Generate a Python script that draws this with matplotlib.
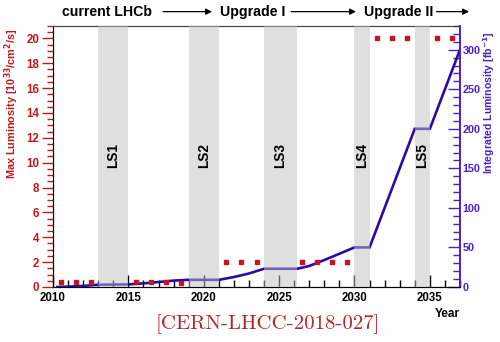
import matplotlib
matplotlib.use("Agg")
import matplotlib.pyplot as plt
from matplotlib.ticker import MultipleLocator
from matplotlib.transforms import blended_transform_factory

# ---------------- data ----------------
lumi_years = [2010.5, 2011.5, 2012.5, 2015.5, 2016.5, 2017.5, 2018.5,
              2021.5, 2022.5, 2023.5, 2026.5, 2027.5, 2028.5, 2029.5,
              2031.5, 2032.5, 2033.5, 2035.5, 2036.5]
max_lumi = [0.4, 0.4, 0.4, 0.4, 0.4, 0.4, 0.3,
            2, 2, 2, 2, 2, 2, 2,
            20, 20, 20, 20, 20]

int_years = [2010.3, 2011, 2012, 2013, 2015, 2016, 2017, 2018, 2019, 2021,
             2022, 2023, 2024, 2026.2, 2027, 2028, 2029, 2030, 2031,
             2034, 2035, 2037]
int_lumi = [0, 0.4, 1.3, 2.8, 3.2, 4.5, 6.2, 8, 9, 9,
            12.5, 17, 23, 23, 26.5, 34, 42, 50, 50,
            200, 200, 300]

shutdowns = ["LS1", "LS2", "LS3", "LS4", "LS5"]
ls_start = [2013, 2019, 2024, 2030, 2034]
ls_end = [2015, 2021, 2026.2, 2031, 2035]

phases = ["current LHCb", "Upgrade I", "Upgrade II"]

# ---------------- style ----------------
RED = "#c4161c"
BLUE_AX = "#4a1fd0"
BLUE_LINE = "#2a0aa8"
plt.rcParams['font.family'] = ['Liberation Sans', 'DejaVu Sans']
plt.rcParams['font.weight'] = 'bold'

fig = plt.figure(figsize=(5.0, 3.42), dpi=100)
ax = fig.add_axes([0.106, 0.161, 0.814, 0.763])
ax2 = ax.twinx()

# integrated luminosity (right axis)
ax2.plot(int_years, int_lumi, color=BLUE_LINE, lw=1.9, zorder=2,
         solid_joinstyle='miter')
ax2.set_ylim(0, 330)

# shutdown bands drawn on top of line (semi-transparent)
for s, e in zip(ls_start, ls_end):
    ax2.axvspan(s, e, color="#c1c1c1", alpha=0.5, lw=0, zorder=3)

# max luminosity points (left axis scale)
ax2.plot(lumi_years, max_lumi, ls='none', marker='s', ms=3.2,
         color=RED, mec=RED, transform=ax.transData, zorder=4)

ax.set_xlim(2010, 2037)
ax.set_ylim(0, 21)

# LS labels
for name, s, e in zip(shutdowns, ls_start, ls_end):
    ax2.text((s + e) / 2, 10.6, name, rotation=90, ha='center', va='center',
             fontsize=9.8, fontweight='bold', color='black', zorder=5,
             transform=ax.transData)

# left axis
ax.yaxis.set_major_locator(MultipleLocator(2))
ax.yaxis.set_minor_locator(MultipleLocator(0.5))
ax.tick_params(axis='y', which='both', direction='out', colors=RED,
               labelsize=8.3, pad=2)
ax.tick_params(axis='y', which='major', length=8, width=1)
ax.tick_params(axis='y', which='minor', length=4, width=1)
for lab in ax.get_yticklabels():
    lab.set_fontweight('bold')
ax.set_ylabel(r"Max Luminosity [10$^{\mathbf{33}}$/cm$^{\mathbf{2}}$/s]",
              color=RED, fontsize=7.8, fontweight='bold')
ax.yaxis.set_label_coords(-0.078, 0.70)

# x axis
ax.xaxis.set_major_locator(MultipleLocator(5))
ax.xaxis.set_minor_locator(MultipleLocator(1))
ax.tick_params(axis='x', which='both', direction='in', colors='black',
               labelsize=8.3, pad=4, top=False)
ax.tick_params(axis='x', which='major', length=9, width=1)
ax.tick_params(axis='x', which='minor', length=5, width=1)
for lab in ax.get_xticklabels():
    lab.set_fontweight('bold')
ax.text(1.0, -0.08, "Year", transform=ax.transAxes, ha='right', va='top',
        fontsize=8.5, fontweight='bold')

# right axis
ax2.yaxis.set_major_locator(MultipleLocator(50))
ax2.yaxis.set_minor_locator(MultipleLocator(10))
ax2.tick_params(axis='y', which='both', direction='in', colors=BLUE_AX,
                labelsize=7.8, pad=2)
ax2.tick_params(axis='y', which='major', length=9, width=1)
ax2.tick_params(axis='y', which='minor', length=5, width=1)
for lab in ax2.get_yticklabels():
    lab.set_fontweight('bold')
ax2.set_ylabel(r"Integrated Luminosity [fb$^{\mathbf{-1}}$]", color=BLUE_AX,
               fontsize=7.6, fontweight='bold')
ax2.yaxis.set_label_coords(1.052, 0.705)

# spines
for a in (ax, ax2):
    a.spines['top'].set_color('#444444')
    a.spines['left'].set_color('black')
    a.spines['bottom'].set_color('black')
    a.spines['right'].set_color(BLUE_AX)
    a.spines['right'].set_linewidth(1.2)

# phase labels with arrows on top
tr = blended_transform_factory(ax.transData, ax.transAxes)
phase_x = [2013.6, 2023.25, 2032.9]
arrows = [(2017.3, 2020.55), (2025.8, 2030.1), (2035.45, 2037.6)]
for name, x in zip(phases, phase_x):
    ax.text(x, 1.055, name, transform=tr, ha='center', va='center',
            fontsize=10.2, fontweight='bold', clip_on=False)
for x0, x1 in arrows:
    ax.annotate("", xy=(x1, 1.055), xytext=(x0, 1.055), xycoords=tr,
                textcoords=tr,
                arrowprops=dict(arrowstyle='-|>', color='black', lw=0.9,
                                mutation_scale=9, shrinkA=0, shrinkB=0),
                annotation_clip=False)

# reference note
fig.text(0.535, 0.052, "[CERN-LHCC-2018-027]", ha='center', va='center',
         fontsize=15, color="#b3262a", family='cmr10', fontweight='normal')

fig.savefig("out.png", dpi=100)
